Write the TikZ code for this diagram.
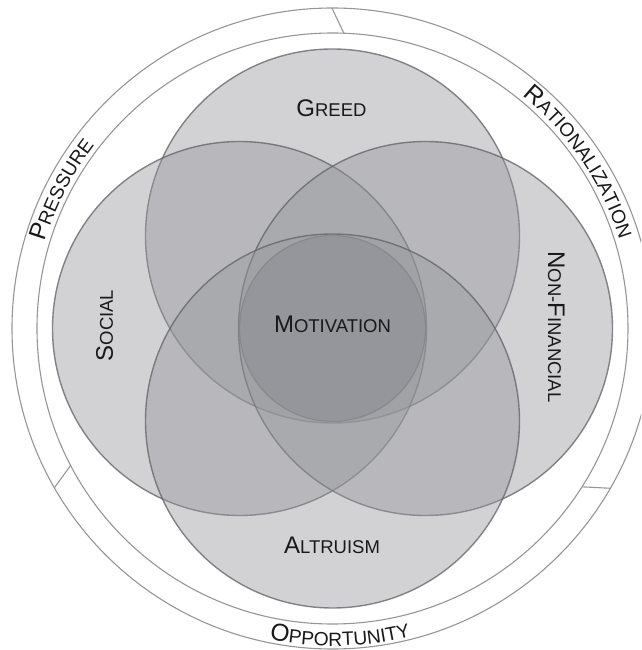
\documentclass[tikz,border=0pt]{standalone}
\usepackage{fontspec}
\setmainfont{Liberation Sans}
\usetikzlibrary{decorations.text}

% small-caps look: full-size initials, reduced capitals for the rest
\newcommand\lblbig{\fontsize{24}{25}\selectfont}
\newcommand\lblsmall{\fontsize{18.5}{19}\selectfont}
\newcommand\bandbig{\fontsize{24.5}{25}\selectfont}
\newcommand\bandsmall{\fontsize{19.2}{20}\selectfont}

\definecolor{vennfill}{RGB}{150,151,156}
\definecolor{corefill}{RGB}{118,119,124}
\definecolor{vennrim}{RGB}{96,97,101}
\definecolor{ringline}{RGB}{150,150,150}
\definecolor{labeltext}{RGB}{25,25,25}

\begin{document}
\begin{tikzpicture}[x=1pt,y=1pt,
  petal/.style={circle, inner sep=0pt, outer sep=0pt, minimum size=374pt,
    fill=vennfill, fill opacity=0.43, draw=vennrim, draw opacity=0.75, line width=1.4pt},
  core/.style={circle, inner sep=0pt, outer sep=0pt, minimum size=186pt,
    fill=corefill, fill opacity=0.27, draw=vennrim, draw opacity=0.3, line width=1.2pt},
  ringcircle/.style={circle, inner sep=0pt, outer sep=0pt, draw=ringline, line width=1.1pt},
  divider/.style={draw=ringline, line width=1.1pt},
  lbl/.style={font=\lblsmall, text=labeltext, anchor=base, inner sep=0pt}
]
\clip (-332.5,-321.5) rectangle (308.5,328.5);

% outer band split into three sectors
\node[ringcircle, minimum size=641pt] (outerring) at (0,0) {};
\node[ringcircle, minimum size=591pt] (innerring) at (0,0) {};

\coordinate (topout) at (90.1:320.5);
\coordinate (topin) at (87.8:295.5);
\coordinate (leftout) at (209.8:320.5);
\coordinate (leftin) at (207.6:295.5);
\coordinate (rightout) at (330.1:320.5);
\coordinate (rightin) at (327.6:295.5);
\draw[divider] (topin) -- (topout);
\draw[divider] (leftin) -- (leftout);
\draw[divider] (rightin) -- (rightout);

% band captions
\path[decorate, decoration={text along path, text align=center,
  text color=labeltext, text={|\bandbig|P|\bandsmall|RESSURE}}]
  (192.8:300.5) arc[start angle=192.8, end angle=112.8, radius=300.5];
\path[decorate, decoration={text along path, text align=center,
  text color=labeltext, text={|\bandbig|R|\bandsmall|ATIONALIZATION}}]
  (74:300.5) arc[start angle=74, end angle=-6, radius=300.5];
\path[decorate, decoration={text along path, text align=center,
  text color=labeltext, text={|\bandbig|O|\bandsmall|PPORTUNITY}}]
  (231.4:317.5) arc[start angle=231.4, end angle=311.4, radius=317.5];

% four overlapping sets
\node[petal] (greed) at (0,92.5) {};
\node[petal] (social) at (-93,0) {};
\node[petal] (nonfin) at (93,0) {};
\node[petal] (altruism) at (0,-92.5) {};

% common core
\node[core] (motivation) at (0,0) {};

% set labels
\node[lbl] (greedlbl) at (-1,211.5) {{\lblbig G}REED};
\node[lbl, rotate=90] (sociallbl) at (-219.5,3) {{\lblbig S}OCIAL};
\node[lbl, rotate=-90] (nonfinlbl) at (215.5,1.5) {{\lblbig N}ON-{\lblbig F}INANCIAL};
\node[lbl] (altruismlbl) at (-0.5,-224.5) {{\lblbig A}LTRUISM};
\node[lbl] (motivationlbl) at (0,-4.5) {{\lblbig M}OTIVATION};
\end{tikzpicture}
\end{document}
